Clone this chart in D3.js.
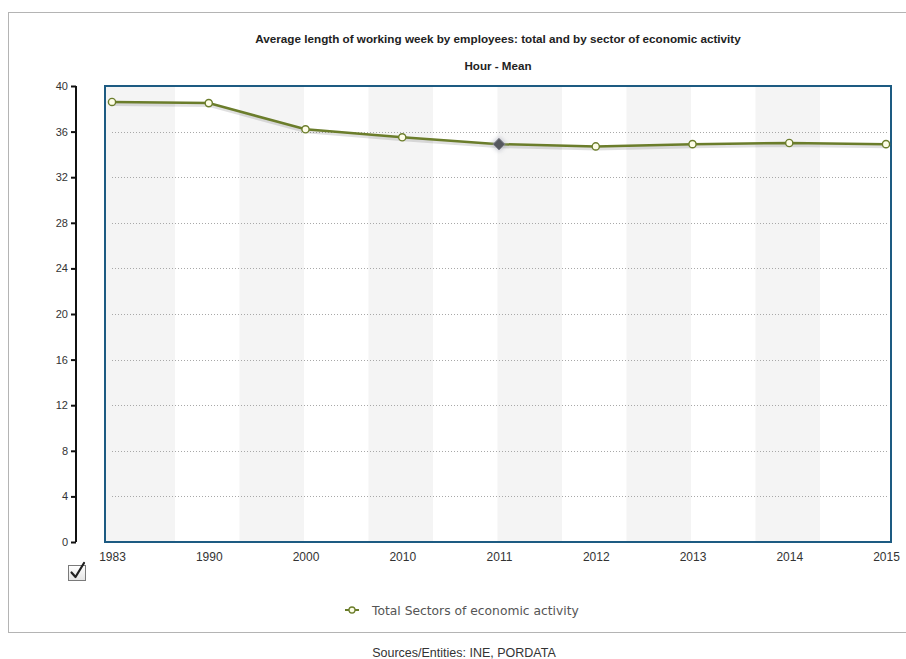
<!DOCTYPE html>
<html>
<head>
<meta charset="utf-8">
<script src="https://cdn.jsdelivr.net/npm/d3@7"></script>
<style>
  html, body { margin: 0; padding: 0; background: #fff; }
  svg { display: block; }
</style>
</head>
<body>
<svg id="chart" width="906" height="659"></svg>
<script>
// ---- data ----
const years = ["1983", "1990", "2000", "2010", "2011", "2012", "2013", "2014", "2015"];
const hours = [38.6, 38.5, 36.2, 35.5, 34.9, 34.7, 34.9, 35.0, 34.9];
const yTicks = [0, 4, 8, 12, 16, 20, 24, 28, 32, 36, 40];
const gridValues = [4, 8, 12, 16, 20, 24, 28, 32, 36];
const highlighted = ["2011"];
const title = "Average length of working week by employees: total and by sector of economic activity";
const subtitle = "Hour - Mean";
const seriesName = "Total Sectors of economic activity";
const sourceText = "Sources/Entities: INE, PORDATA";

// ---- layout ----
const W = 906, H = 659;
const plot = { left: 105, top: 86, right: 891, bottom: 542 };
const lineColor = "#6b7d2b";

const svg = d3.select("#chart");

// defs
const defs = svg.append("defs");
const glow = defs.append("filter").attr("id", "glow").attr("x", "-100%").attr("y", "-100%").attr("width", "300%").attr("height", "300%");
glow.append("feGaussianBlur").attr("stdDeviation", 2);
const cbGrad = defs.append("linearGradient").attr("id", "cbg").attr("x1", 0).attr("y1", 0).attr("x2", 0).attr("y2", 1);
cbGrad.append("stop").attr("offset", "0%").attr("stop-color", "#ffffff");
cbGrad.append("stop").attr("offset", "100%").attr("stop-color", "#e4e4e4");
defs.append("clipPath").attr("id", "plotclip").append("rect")
  .attr("x", plot.left).attr("y", plot.top)
  .attr("width", plot.right - plot.left).attr("height", plot.bottom - plot.top);

// outer frame
svg.append("rect")
  .attr("x", 8.5).attr("y", 12.5).attr("width", 920).attr("height", 620)
  .attr("fill", "#fff").attr("stroke", "#b4b4b4").attr("stroke-width", 1);

// scales
const x = d3.scalePoint().domain(years).range([112, 886]);
const y = d3.scaleLinear().domain([0, 40]).range([plot.bottom, plot.top]);
const bandScale = d3.scaleLinear().domain([0, 12]).range([110.5, 884.5]);

// alternating bands
const bandIdx = d3.range(0, 12, 2);
const gBands = svg.append("g").attr("clip-path", "url(#plotclip)");
gBands.selectAll("rect").data(bandIdx).join("rect")
  .attr("x", d => d === 0 ? plot.left : bandScale(d))
  .attr("y", plot.top)
  .attr("width", d => bandScale(d + 1) - (d === 0 ? plot.left : bandScale(d)))
  .attr("height", plot.bottom - plot.top)
  .attr("fill", "#f4f4f4");

// grid lines
svg.append("g").selectAll("line").data(gridValues).join("line")
  .attr("x1", x.range()[0]).attr("x2", x.range()[1] + 1)
  .attr("y1", d => Math.round(y(d)) + 0.5).attr("y2", d => Math.round(y(d)) + 0.5)
  .attr("stroke", "#a8a8a8").attr("stroke-width", 1)
  .attr("stroke-dasharray", "1,2");

// plot border
svg.append("rect")
  .attr("x", plot.left).attr("y", plot.top)
  .attr("width", plot.right - plot.left).attr("height", plot.bottom - plot.top)
  .attr("fill", "none").attr("stroke", "#1d5b82").attr("stroke-width", 2);

// y axis
const yAxis = d3.axisLeft(y).tickValues(yTicks).tickSize(5).tickPadding(3).tickFormat(d3.format("d"));
const gy = svg.append("g").attr("transform", "translate(76,0)").call(yAxis);
gy.select(".domain").attr("stroke", "#111").attr("stroke-width", 2).attr("d", `M0,${plot.top}V${plot.bottom}`);
gy.selectAll(".tick line").attr("stroke", "#111").attr("stroke-width", 2);
gy.selectAll(".tick text").attr("font-family", "Liberation Sans, Arial, sans-serif")
  .attr("font-size", 11).attr("fill", "#333");

// x axis labels
const xAxis = d3.axisBottom(x).tickSize(0).tickPadding(0);
const gx = svg.append("g").attr("transform", `translate(0,${plot.bottom + 10})`).call(xAxis);
gx.select(".domain").remove();
gx.selectAll(".tick text").attr("font-family", "Liberation Sans, Arial, sans-serif")
  .attr("font-size", 12).attr("fill", "#333").attr("dy", "0.71em");

// line
const pts = years.map((yr, i) => ({ yr, v: hours[i] }));
const line = d3.line().x(d => x(d.yr)).y(d => y(d.v));
svg.append("path").datum(pts)
  .attr("d", line).attr("fill", "none")
  .attr("stroke", "#000").attr("stroke-opacity", 0.12).attr("stroke-width", 4)
  .attr("transform", "translate(1,2)");
svg.append("path").datum(pts)
  .attr("d", line).attr("fill", "none")
  .attr("stroke", lineColor).attr("stroke-width", 2.5);

// markers
const normal = pts.filter(d => !highlighted.includes(d.yr));
const hi = pts.filter(d => highlighted.includes(d.yr));
svg.append("g").selectAll("circle").data(normal).join("circle")
  .attr("cx", d => x(d.yr)).attr("cy", d => y(d.v)).attr("r", 3.6)
  .attr("fill", "#fdfde8").attr("stroke", lineColor).attr("stroke-width", 1.4);
const gHi = svg.append("g");
gHi.selectAll("path.glow").data(hi).join("path").attr("class", "glow")
  .attr("d", d3.symbol().type(d3.symbolDiamond2).size(160))
  .attr("transform", d => `translate(${x(d.yr)},${y(d.v)})`)
  .attr("fill", "#a0a3b0").attr("opacity", 0.55).attr("filter", "url(#glow)");
gHi.selectAll("path.dia").data(hi).join("path").attr("class", "dia")
  .attr("d", d3.symbol().type(d3.symbolDiamond2).size(85))
  .attr("transform", d => `translate(${x(d.yr)},${y(d.v)})`)
  .attr("fill", "#56585f").attr("stroke", "#80828c").attr("stroke-width", 1);

// titles
const cx = (plot.left + plot.right) / 2;
svg.append("text").attr("x", cx).attr("y", 43).attr("text-anchor", "middle")
  .attr("font-family", "Liberation Sans, Arial, sans-serif").attr("font-size", 11.7)
  .attr("font-weight", "bold").attr("fill", "#222").text(title);
svg.append("text").attr("x", cx).attr("y", 70).attr("text-anchor", "middle")
  .attr("font-family", "Liberation Sans, Arial, sans-serif").attr("font-size", 11.6)
  .attr("font-weight", "bold").attr("fill", "#222").text(subtitle);

// checkbox
const cb = svg.append("g").attr("transform", "translate(68,565)");
cb.append("rect").attr("x", 0.5).attr("y", 0.5).attr("width", 17).attr("height", 15)
  .attr("fill", "url(#cbg)").attr("stroke", "#7a7a7a").attr("stroke-width", 1);
cb.append("path").attr("d", "M3.5,7.5 L7.5,12 L16,-2")
  .attr("fill", "none").attr("stroke", "#222").attr("stroke-width", 2.2)
  .attr("stroke-linecap", "round").attr("stroke-linejoin", "round");

// legend
const lg = svg.append("g").attr("transform", "translate(352,610)");
lg.append("line").attr("x1", -7).attr("x2", 7).attr("y1", 0).attr("y2", 0)
  .attr("stroke", lineColor).attr("stroke-width", 2);
lg.append("circle").attr("r", 3).attr("fill", "#fdfde8").attr("stroke", lineColor).attr("stroke-width", 1.3);
lg.append("text").attr("x", 20).attr("y", 4.5)
  .attr("font-family", "DejaVu Sans, Verdana, sans-serif").attr("font-size", 12.3)
  .attr("fill", "#555").text(seriesName);

// source
svg.append("text").attr("x", 464).attr("y", 657).attr("text-anchor", "middle")
  .attr("font-family", "Liberation Sans, Arial, sans-serif").attr("font-size", 12.5)
  .attr("fill", "#333").text(sourceText);
</script>
</body>
</html>
